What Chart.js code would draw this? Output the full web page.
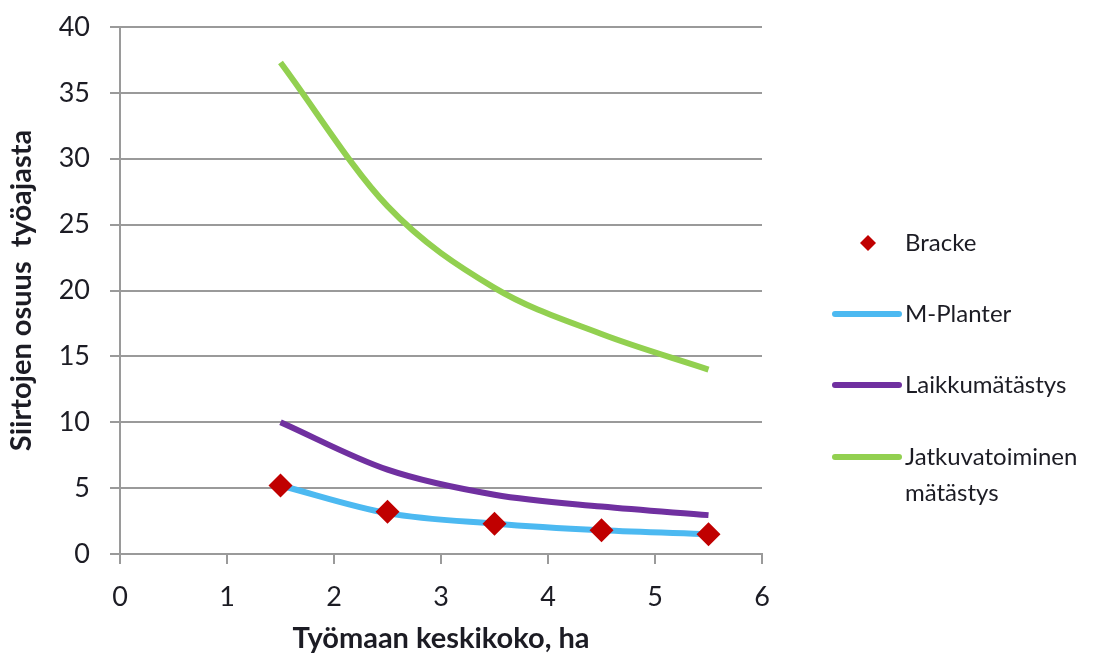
<!DOCTYPE html>
<html lang="fi">
<head>
    <meta charset="UTF-8">
    <title>Siirtojen osuus työajasta</title>
    <style>
        body {
            margin: 0;
            background-color: white;
        }
        .chart-container {
            position: relative;
            width: 1099px;
            height: 666px;
        }
    </style>
    <script src="https://cdn.jsdelivr.net/npm/chart.js"></script>
</head>
<body>
    <div class="chart-container">
        <canvas id="siirtoChart"></canvas>
    </div>

    <script>
        // työmaan keskikoko, ha
        const sizes = [1.5, 2.5, 3.5, 4.5, 5.5];
        const bracke = [5.2, 3.2, 2.3, 1.8, 1.5];
        const mPlanter = [5.2, 3.1, 2.3, 1.8, 1.5];
        const laikkumatastys = [10.0, 6.4, 4.5, 3.6, 2.95];
        const jatkuvatoiminen = [37.3, 26.4, 20.2, 16.7, 14.0];
        const seriesNames = ['Bracke', 'M-Planter', 'Laikkumätästys', ['Jatkuvatoiminen', 'mätästys']];

        const fontFamily = 'Lato, "Open Sans", sans-serif';
        const textColor = '#1c1c24';
        const gridColor = '#9a9a9a';

        function toPoints(values) {
            return sizes.map((x, i) => ({ x: x, y: values[i] }));
        }

        // legend drawn by hand, Excel style with a wrapped last label
        const sideLegend = {
            id: 'sideLegend',
            afterDraw(chart) {
                const ctx = chart.ctx;
                const rows = [243, 314, 385, 457];
                ctx.save();
                ctx.font = '24px ' + fontFamily;
                ctx.textBaseline = 'middle';
                chart.data.datasets.forEach((ds, i) => {
                    const y = rows[i];
                    if (ds.showLine === false) {
                        ctx.fillStyle = ds.pointBackgroundColor;
                        ctx.beginPath();
                        ctx.moveTo(868, y - 8);
                        ctx.lineTo(876, y);
                        ctx.lineTo(868, y + 8);
                        ctx.lineTo(860, y);
                        ctx.closePath();
                        ctx.fill();
                    } else {
                        ctx.strokeStyle = ds.borderColor;
                        ctx.lineWidth = 6;
                        ctx.lineCap = 'round';
                        ctx.beginPath();
                        ctx.moveTo(835, y);
                        ctx.lineTo(899, y);
                        ctx.stroke();
                    }
                    ctx.fillStyle = textColor;
                    const label = seriesNames[i];
                    const lines = Array.isArray(label) ? label : [label];
                    lines.forEach((t, j) => ctx.fillText(t, 905, y + j * 36));
                });
                ctx.restore();
            }
        };

        function createChart() {
            const ctx = document.getElementById('siirtoChart').getContext('2d');
            new Chart(ctx, {
                type: 'scatter',
                data: {
                    datasets: [{
                        label: 'Bracke',
                        data: toPoints(bracke),
                        showLine: false,
                        pointStyle: 'rectRot',
                        pointRadius: 12,
                        pointBackgroundColor: '#c00000',
                        pointBorderColor: '#c00000',
                        pointBorderWidth: 0
                    }, {
                        label: 'M-Planter',
                        data: toPoints(mPlanter),
                        showLine: true,
                        borderColor: '#4cb9f1',
                        borderWidth: 6,
                        pointRadius: 0,
                        cubicInterpolationMode: 'monotone'
                    }, {
                        label: 'Laikkumätästys',
                        data: toPoints(laikkumatastys),
                        showLine: true,
                        borderColor: '#7030a0',
                        borderWidth: 6,
                        pointRadius: 0,
                        cubicInterpolationMode: 'monotone'
                    }, {
                        label: 'Jatkuvatoiminen mätästys',
                        data: toPoints(jatkuvatoiminen),
                        showLine: true,
                        borderColor: '#92d050',
                        borderWidth: 6,
                        pointRadius: 0,
                        cubicInterpolationMode: 'monotone'
                    }]
                },
                options: {
                    responsive: true,
                    maintainAspectRatio: false,
                    animation: false,
                    layout: {
                        padding: { top: 27, right: 337, left: 0, bottom: 0 }
                    },
                    scales: {
                        x: {
                            type: 'linear',
                            min: 0,
                            max: 6,
                            ticks: {
                                stepSize: 1,
                                color: textColor,
                                padding: 17,
                                font: { family: fontFamily, size: 27 }
                            },
                            grid: {
                                drawOnChartArea: false,
                                drawTicks: true,
                                tickLength: 10,
                                color: gridColor,
                                lineWidth: 2
                            },
                            border: { color: gridColor, width: 2 },
                            title: {
                                display: true,
                                text: 'Työmaan keskikoko, ha',
                                color: textColor,
                                padding: { top: 4, bottom: 10 },
                                font: { family: fontFamily, size: 29, weight: 'bold' }
                            },
                            afterFit(scale) {
                                scale.height = 112;
                            }
                        },
                        y: {
                            min: 0,
                            max: 40,
                            ticks: {
                                stepSize: 5,
                                color: textColor,
                                padding: 20,
                                font: { family: fontFamily, size: 27 }
                            },
                            grid: {
                                tickLength: 10,
                                color: gridColor,
                                lineWidth: 2
                            },
                            border: { color: gridColor, width: 2 },
                            title: {
                                display: true,
                                text: 'Siirtojen osuus  työajasta',
                                color: textColor,
                                padding: { top: 4, bottom: 9 },
                                font: { family: fontFamily, size: 29, weight: 'bold' }
                            },
                            afterFit(scale) {
                                scale.width = 120;
                                scale.paddingTop = 0;
                                scale.paddingBottom = 0;
                            }
                        }
                    },
                    plugins: {
                        legend: { display: false },
                        tooltip: { enabled: false }
                    }
                },
                plugins: [sideLegend]
            });
        }

        window.onload = () => {
            createChart();
        };
    </script>
</body>
</html>
